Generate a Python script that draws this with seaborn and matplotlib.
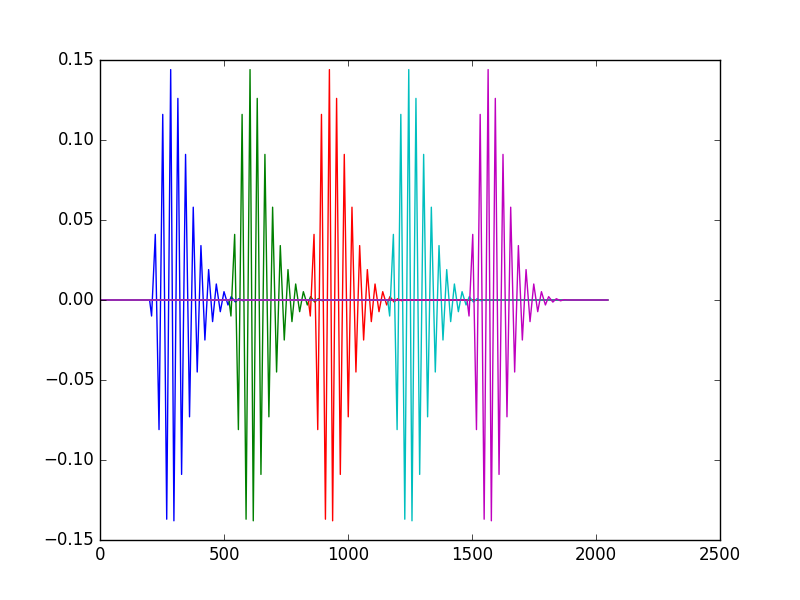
import matplotlib
matplotlib.use('Agg')
import matplotlib.pyplot as plt
import seaborn as sns
import numpy as np

# one wavelet (sample index, value)
shape_x = [200, 208, 223, 238, 253, 269, 285, 298, 314, 329, 345, 361, 376,
           392, 407, 423, 438, 454, 469, 485, 500, 516, 529, 546, 560, 577,
           592, 605]
shape_y = [0.0, -0.010, 0.041, -0.081, 0.116, -0.137, 0.144, -0.138, 0.126,
           -0.109, 0.091, -0.073, 0.058, -0.045, 0.034, -0.025, 0.019,
           -0.0135, 0.010, -0.0073, 0.0052, -0.0031, 0.0021, -0.0013, 0.0008,
           -0.0005, 0.0002, 0.0]

# shift of each copy and its colour
shifts = [0, 320, 640, 960, 1280]
colors = ['b', 'g', 'r', 'c', 'm']
n_samples = 2048

plt.style.use('classic')
fig, ax = plt.subplots(figsize=(8, 6), dpi=100)

for shift, c in zip(shifts, colors):
    xs = np.concatenate([[0], np.array(shape_x) + shift, [n_samples - 1]])
    ys = np.concatenate([[0.0], shape_y, [0.0]])
    sns.lineplot(x=xs, y=ys, color=c, ax=ax, estimator=None, sort=False,
                 legend=False, linewidth=1.0)

ax.set_xlim(0, 2500)
ax.set_ylim(-0.15, 0.15)
ax.set_xticks([0, 500, 1000, 1500, 2000, 2500])
ax.set_yticks([-0.15, -0.10, -0.05, 0.0, 0.05, 0.10, 0.15])
ax.set_yticklabels(['\u22120.15', '\u22120.10', '\u22120.05', '0.00', '0.05', '0.10', '0.15'])

fig.savefig('out.png', dpi=100, facecolor='white')
